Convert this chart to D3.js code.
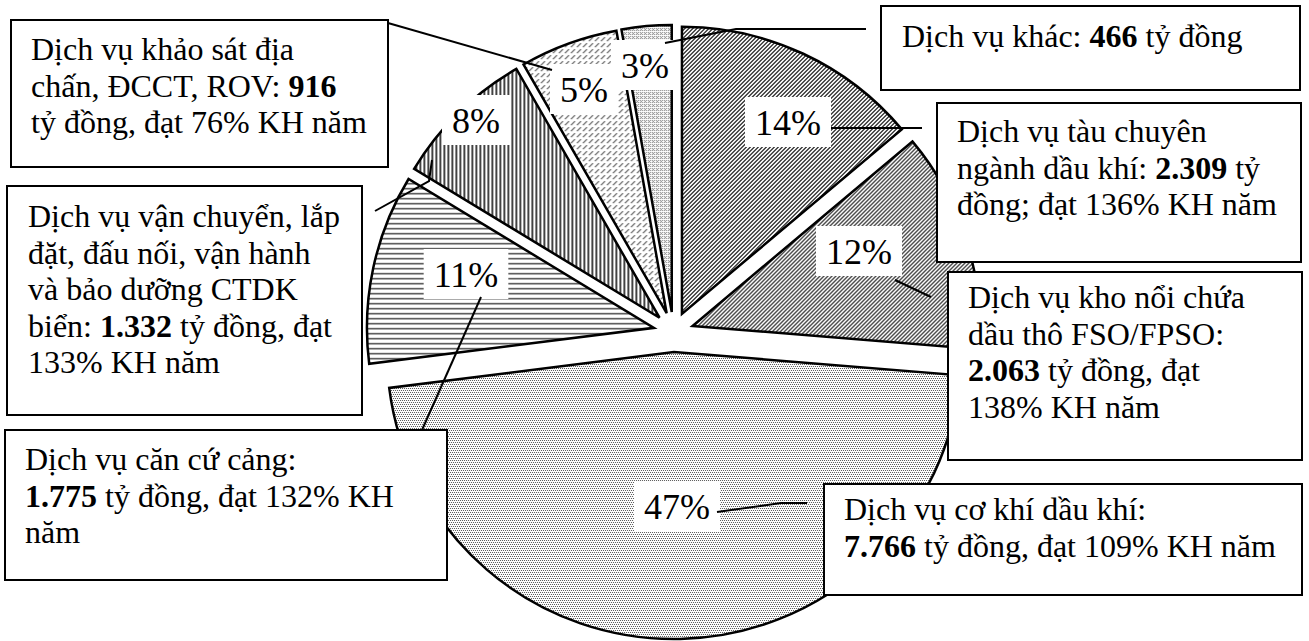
<!DOCTYPE html>
<html><head><meta charset="utf-8">
<script src="https://cdn.jsdelivr.net/npm/d3@7"></script>
<style>html,body{margin:0;padding:0;background:#fff;} svg{display:block;}</style>
</head><body>
<svg id="chart" width="1309" height="641"></svg>
<script>
// ---------------- DATA ----------------
const categories = [
  "Dịch vụ tàu chuyên ngành dầu khí",
  "Dịch vụ kho nổi chứa dầu thô FSO/FPSO",
  "Dịch vụ cơ khí dầu khí",
  "Dịch vụ căn cứ cảng",
  "Dịch vụ vận chuyển, lắp đặt, đấu nối, vận hành và bảo dưỡng CTDK biển",
  "Dịch vụ khảo sát địa chấn, ĐCCT, ROV",
  "Dịch vụ khác"
];
const revenues = [2309, 2063, 7766, 1775, 1332, 916, 466];   // tỷ đồng
const shownPercent = [14, 12, 47, 11, 8, 5, 3];               // as printed on the chart
const planPercent = [136, 138, 109, 132, 133, 76, null];      // % KH năm
// label text lines: {v} = revenue (bold), {p} = plan percent
const labelLines = [
  ["Dịch vụ tàu chuyên", "ngành dầu khí: {v} tỷ", "đồng; đạt {p}% KH năm"],
  ["Dịch vụ kho nổi chứa", "dầu thô FSO/FPSO:", "{v} tỷ đồng, đạt", "{p}% KH năm"],
  ["Dịch vụ cơ khí dầu khí:", "{v} tỷ đồng, đạt {p}% KH năm"],
  ["Dịch vụ căn cứ cảng:", "{v} tỷ đồng, đạt {p}% KH", "năm"],
  ["Dịch vụ vận chuyển, lắp", "đặt, đấu nối, vận hành", "và bảo dưỡng CTDK", "biển: {v} tỷ đồng, đạt", "{p}% KH năm"],
  ["Dịch vụ khảo sát địa", "chấn, ĐCCT, ROV: {v}", "tỷ đồng, đạt {p}% KH năm"],
  ["Dịch vụ khác: {v} tỷ đồng"]
];

// ---------------- LAYOUT / STYLE ----------------
const W = 1309, H = 641;
const pieCfg = {cx: 673.5, cy: 332, r: 287, explode: 20};
const boxes = [
  {x: 937, y: 103, w: 364, h: 159, tx: 957, ty: 142},
  {x: 948, y: 272, w: 354, h: 188, tx: 968, ty: 308},
  {x: 824, y: 484, w: 478, h: 111, tx: 844, ty: 520},
  {x: 5,   y: 430, w: 442, h: 150, tx: 25,  ty: 470},
  {x: 7,   y: 186, w: 355, h: 229, tx: 28,  ty: 227},
  {x: 11,  y: 20,  w: 377, h: 147, tx: 31,  ty: 60},
  {x: 881, y: 6,   w: 419, h: 84,  tx: 902, ty: 47}
];
const pctPos = [[788,122],[859,251],[677,506],[466,274],[476,120],[584,89],[645,65]];
const leaders = [
  [[831,128],[922,128]],
  [[895,280],[931,297]],
  [[717,512],[781,503],[807,503]],
  [[481,297],[422,430]],
  [[432,160],[429,181],[375,211]],
  [[552,70],[388,23]],
  [[665,43],[736,29],[866,29]]
];
const lineH = 36.5;
const boxFont = 32, pctFont = 36;
const fontFamily = "'Liberation Serif','Times New Roman',serif";

// pixel patterns (rows of '#'=dark, '+'=mid, '.'=white)
const patterns = [
  {dark:"#404040", mid:"#888", rows:["##..","#..#","..##",".##."]},
  {dark:"#484848", mid:"#888", rows:["##..","#..#","..##",".##."]},
  {dark:"#555",    mid:"#999", rows:["#.#.","....",".#.#","...."]},
  {dark:"#555",    mid:"#9a9a9a", rows:["####","++++","....","....","...."]},
  {dark:"#111",    mid:"#777", rows:["#+..","#+..","#+..","#+.."]},
  {dark:"#555",    mid:"#aaa", rows:["...#+.","..#+..",".#+...","#+....","......","......"]},
  {dark:"#777",    mid:"#aaa", rows:["#.#.",".#..","#.#.","...."]}
];

// ---------------- DRAW ----------------
const svg = d3.select("#chart");
svg.append("rect").attr("width", W).attr("height", H).attr("fill", "#fff");
const defs = svg.append("defs");
patterns.forEach((p, i) => {
  const h = p.rows.length, w = p.rows[0].length;
  const pat = defs.append("pattern").attr("id", "pat" + i)
    .attr("patternUnits", "userSpaceOnUse").attr("width", w).attr("height", h);
  pat.append("rect").attr("width", w).attr("height", h).attr("fill", "#fff");
  p.rows.forEach((row, y) => {
    [...row].forEach((c, x) => {
      if (c === "#" || c === "+") pat.append("rect").attr("x", x).attr("y", y)
        .attr("width", 1).attr("height", 1).attr("fill", c === "#" ? p.dark : p.mid)
        .attr("shape-rendering", "crispEdges");
    });
  });
});

const pie = d3.pie().sort(null).value(d => d)(revenues);
const arc = d3.arc().innerRadius(0).outerRadius(pieCfg.r);

svg.append("g").selectAll("path").data(pie).join("path")
  .attr("transform", d => {
    const m = (d.startAngle + d.endAngle) / 2;
    return `translate(${pieCfg.cx + pieCfg.explode * Math.sin(m)},${pieCfg.cy - pieCfg.explode * Math.cos(m)})`;
  })
  .attr("d", arc)
  .attr("fill", (d, i) => `url(#pat${i})`)
  .attr("stroke", "#000").attr("stroke-width", 2.5).attr("stroke-linejoin", "miter");

// percentage labels
const pctG = svg.append("g");
shownPercent.forEach((p, i) => {
  const [x, y] = pctPos[i];
  const g = pctG.append("g");
  const bg = g.append("rect").attr("fill", "#fff");
  const t = g.append("text").attr("x", x).attr("y", y + 12.5)
    .attr("text-anchor", "middle").attr("font-family", fontFamily)
    .attr("font-size", pctFont).attr("fill", "#000").text(p + "%");
  const tw = t.node().getComputedTextLength();
  bg.attr("x", x - tw / 2 - 10).attr("y", y - 25).attr("width", tw + 20).attr("height", 50);
});

// text boxes
const fmt = d3.formatLocale({decimal: ",", thousands: ".", grouping: [3], currency: ["", ""]}).format(",");
const boxG = svg.append("g");
labelLines.forEach((lines, i) => {
  const b = boxes[i];
  boxG.append("rect").attr("x", b.x).attr("y", b.y).attr("width", b.w).attr("height", b.h)
    .attr("fill", "#fff").attr("stroke", "#000").attr("stroke-width", 2)
    .attr("shape-rendering", "crispEdges");
  const text = boxG.append("text").attr("font-family", fontFamily)
    .attr("font-size", boxFont).attr("fill", "#000");
  lines.forEach((ln, j) => {
    const s = ln.replace("{p}", planPercent[i]);
    const parts = s.split("{v}");
    const segs = [];
    parts.forEach((part, k) => {
      if (part.length) segs.push({t: part, b: false});
      if (k < parts.length - 1) segs.push({t: fmt(revenues[i]), b: true});
    });
    const y = b.ty + j * lineH;
    segs.forEach((sg, k) => {
      const ts = text.append("tspan").text(sg.t);
      if (sg.b) ts.attr("font-weight", "bold");
      if (k === 0) ts.attr("x", b.tx).attr("y", y);
    });
  });
});

// leader lines
const line = d3.line();
svg.append("g").selectAll("path").data(leaders).join("path")
  .attr("d", d => line(d)).attr("fill", "none")
  .attr("stroke", "#000").attr("stroke-width", 2);
</script>
</body></html>
